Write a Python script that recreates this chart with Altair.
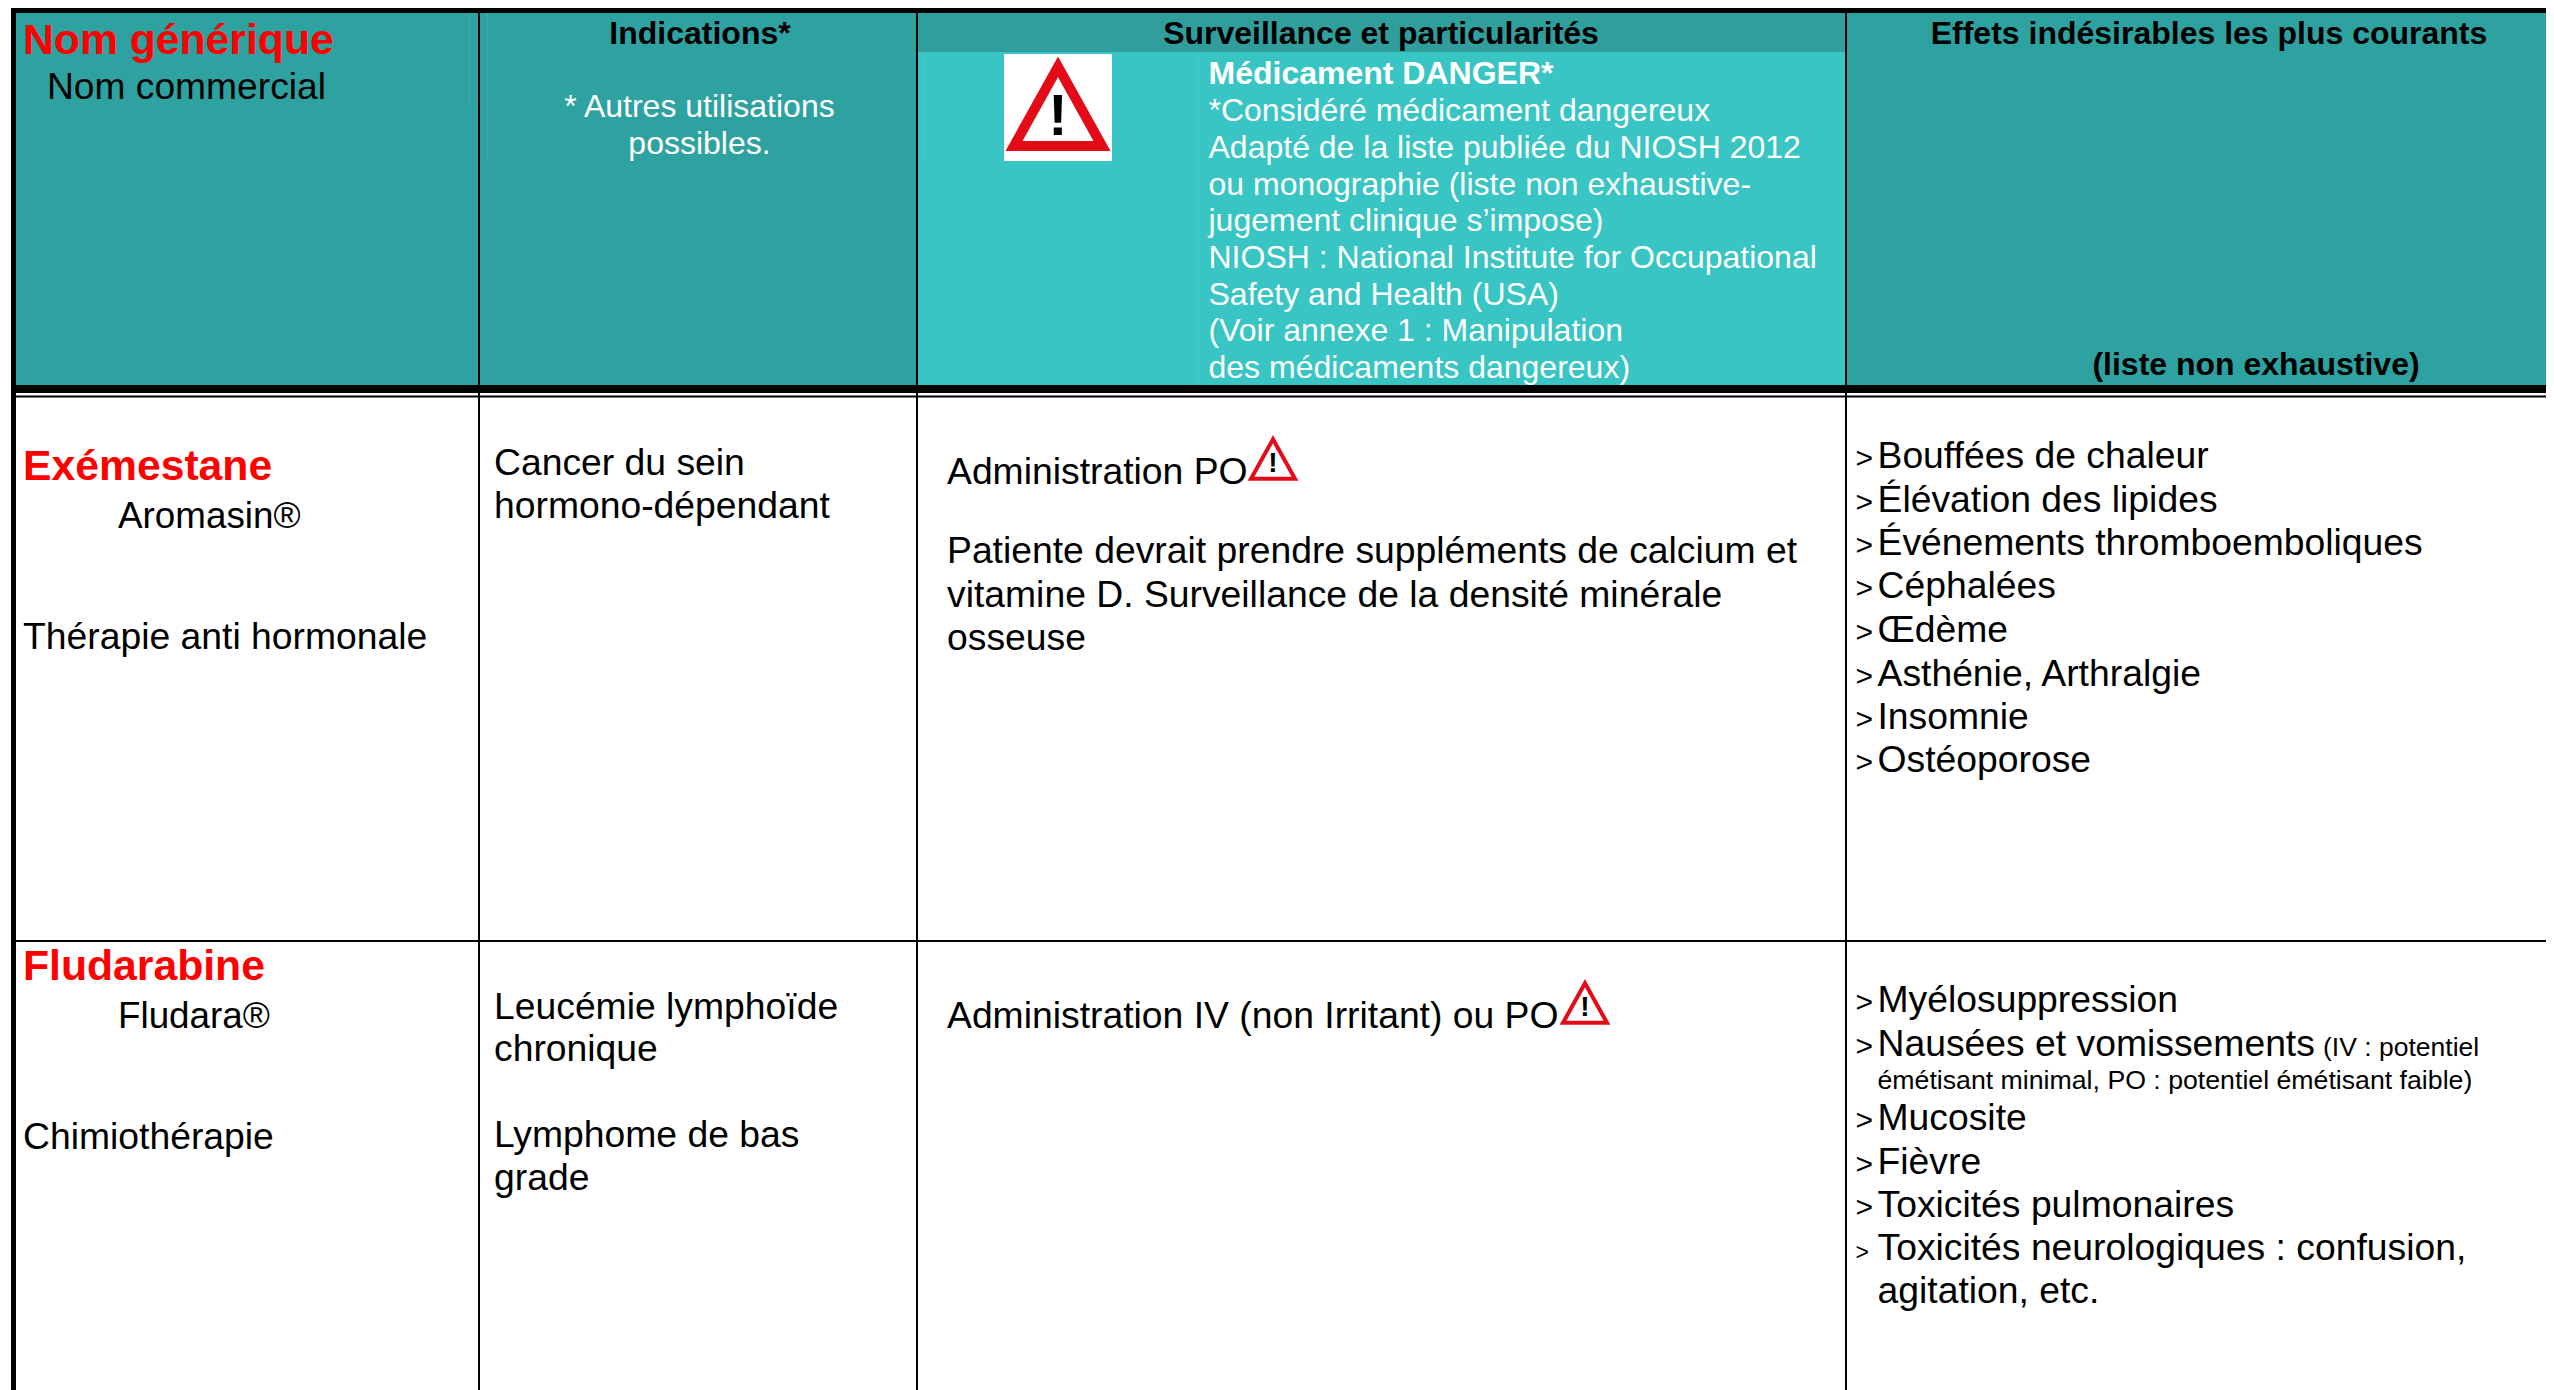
import altair as alt
import pandas as pd

# ---------- texts ----------
header_names = ["Nom générique", "Nom commercial"]
header_indications = ["Indications*", "* Autres utilisations", "possibles."]
header_surveillance = ["Surveillance et particularités", "Médicament DANGER*"]
danger_lines = [
    "*Considéré médicament dangereux",
    "Adapté de la liste publiée du NIOSH 2012",
    "ou monographie (liste non exhaustive-",
    "jugement clinique s’impose)",
    "NIOSH : National Institute for Occupational",
    "Safety and Health (USA)",
    "(Voir annexe 1 : Manipulation",
    "des médicaments dangereux)",
]
header_effects = ["Effets indésirables les plus courants", "(liste non exhaustive)"]

generic_names = ["Exémestane", "Fludarabine"]
brand_names = ["Aromasin®", "Fludara®"]
classes = ["Thérapie anti hormonale", "Chimiothérapie"]
indications = ["Cancer du sein", "hormono-dépendant", "Leucémie lymphoïde", "chronique", "Lymphome de bas", "grade"]
surveillance = [
    "Administration PO",
    "Patiente devrait prendre suppléments de calcium et",
    "vitamine D. Surveillance de la densité minérale",
    "osseuse",
    "Administration IV (non Irritant) ou PO",
]
effects = [
    "Bouffées de chaleur", "Élévation des lipides", "Événements thromboemboliques", "Céphalées",
    "Œdème", "Asthénie, Arthralgie", "Insomnie", "Ostéoporose",
    "Myélosuppression", "Nausées et vomissements", "Mucosite", "Fièvre",
    "Toxicités pulmonaires", "Toxicités neurologiques : confusion,", "agitation, etc.",
]
effects_small = ["(IV : potentiel", "émétisant minimal, PO : potentiel émétisant faible)"]

# ---------- layout ----------
W, H = 2554, 1390
FONT = "Liberation Sans"
TEAL, BRIGHT, BAND = "#2EA2A0", "#38C5C3", "#2F9E9C"
RED, BLACK, WHITE = "#FF0000", "#000000", "#FFFFFF"
col1, col2, col3 = 479, 917, 1846

effects_y = [468, 512, 555, 598, 642, 686, 729, 772, 1012, 1056, 1130, 1174, 1217, 1260, 1303]
bullet_size = [30] * 13 + [23, 0]
danger_y = [121, 158, 194.5, 231, 268, 304.5, 341, 378]


def X(field="x", **kw):
    return alt.X(f"{field}:Q", axis=None, scale=alt.Scale(domain=[8, W - 8], nice=False, zero=False), **kw)


def Y(field="y", **kw):
    return alt.Y(f"{field}:Q", axis=None, scale=alt.Scale(domain=[H, 8], nice=False, zero=False), **kw)


rects = pd.DataFrame(
    [
        (16, W - 8, 13, 385, TEAL),
        (col2, col3, 13, 52, BAND),
        (col2, col3, 52, 385, BRIGHT),
        (469, 470, 13, 105, "#45ABA9"),
        (487, 488, 13, 160, "#45ABA9"),
        (923, 924, 52, 160, "#45CCCA"),
        (1198, 1199, 54, 385, "#45CCCA"),
        (1004, 1112, 54, 161, WHITE),
        (11, W - 8, 8, 13, BLACK),
        (11, 16, 8, H, BLACK),
        (16, W - 8, 385, 393, BLACK),
        (16, W - 8, 395.5, 397.5, BLACK),
        (16, W - 8, 940, 942, BLACK),
        (col1 - 1, col1 + 1, 13, H, BLACK),
        (col2 - 1, col2 + 1, 13, H, BLACK),
        (col3 - 1, col3 + 1, 13, H, BLACK),
    ],
    columns=["x", "x2", "y", "y2", "c"],
)
rect_layer = alt.Chart(rects).mark_rect().encode(
    x=X(), x2="x2:Q", y=Y(), y2="y2:Q", color=alt.Color("c:N", scale=None)
)

rows_l, rows_lb, rows_c, rows_cb = [], [], [], []
rows_lb += [(23, 53.5, header_names[0], 42.7, RED)]
rows_l += [(47, 98.5, header_names[1], 37.2, BLACK)]
rows_cb += [(700, 43.5, header_indications[0], 32, BLACK)]
rows_c += [(699.5, 117, header_indications[1], 32, WHITE), (699.5, 154, header_indications[2], 32, WHITE)]
rows_cb += [(1381, 43.5, header_surveillance[0], 32, BLACK)]
rows_lb += [(1208.5, 84, header_surveillance[1], 32, WHITE)]
rows_l += [(1208.5, y, t, 32, WHITE) for y, t in zip(danger_y, danger_lines)]
rows_cb += [(2209, 43.5, header_effects[0], 32, BLACK), (2256, 374.5, header_effects[1], 32, BLACK)]

rows_lb += [(23, 479.5, generic_names[0], 42.7, RED), (23, 979.5, generic_names[1], 42.7, RED)]
rows_l += [(118, 527.5, brand_names[0], 36.8, BLACK), (118, 1028, brand_names[1], 36.8, BLACK)]
rows_l += [(23, 649, classes[0], 37.3, BLACK), (23, 1149, classes[1], 37.3, BLACK)]
rows_l += [(494, y, t, 37.3, BLACK) for y, t in zip([474.5, 517.5, 1018.5, 1060.5, 1146.5, 1189.5], indications)]
rows_l += [(947, y, t, 37.3, BLACK) for y, t in zip([483.5, 563, 607, 650, 1027.5], surveillance)]
rows_l += [(1877.5, y, t, 37.3, BLACK) for y, t in zip(effects_y, effects)]
rows_l += [(1855.5, y, ">", s, BLACK) for y, s in zip(effects_y, bullet_size) if s]
rows_l += [(2323, 1056, effects_small[0], 26.5, BLACK), (1877.5, 1089, effects_small[1], 26.7, BLACK)]

cols = ["x", "y", "t", "s", "c"]


def text_layer(rows, align, weight):
    return alt.Chart(pd.DataFrame(rows, columns=cols)).mark_text(
        align=align, baseline="alphabetic", font=FONT, fontWeight=weight
    ).encode(
        x=X(), y=Y(), text="t:N", size=alt.Size("s:Q", scale=None), color=alt.Color("c:N", scale=None)
    )


# ---------- warning icons ----------
TRI = "M0,-0.9L1,0.9L-1,0.9Z"
icons = pd.DataFrame([(1058, 106.4, 88, 10), (1273, 459, 44, 4), (1585, 1003, 44, 4)], columns=["x", "y", "w", "sw"])
icon_layer = alt.Chart(icons).mark_point(shape=TRI, filled=False, stroke="#E30B17", fill=WHITE, fillOpacity=1, opacity=1, strokeJoin="miter").encode(
    x=X(), y=Y(), size=alt.Size("area:Q", scale=None), strokeWidth=alt.StrokeWidth("sw:Q", scale=None)
).transform_calculate(area="datum.w*datum.w")

marks = pd.DataFrame([(1058, 135, 58), (1273, 472, 28), (1585, 1016, 28)], columns=["x", "y", "s"])
marks["t"] = "!"
marks["c"] = BLACK
bang = alt.Chart(marks).mark_text(align="center", baseline="alphabetic", font=FONT, fontWeight="bold").encode(
    x=X(), y=Y(), text="t:N", size=alt.Size("s:Q", scale=None), color=alt.Color("c:N", scale=None)
)

chart = alt.layer(
    rect_layer,
    text_layer(rows_l, "left", "normal"),
    text_layer(rows_lb, "left", "bold"),
    text_layer(rows_c, "center", "normal"),
    text_layer(rows_cb, "center", "bold"),
    icon_layer,
    bang,
).properties(
    width=W - 16, height=H - 8, padding=0, background="white"
).configure_view(stroke=None)

chart.save("out.html", embed_options={"renderer": "svg", "actions": False})
